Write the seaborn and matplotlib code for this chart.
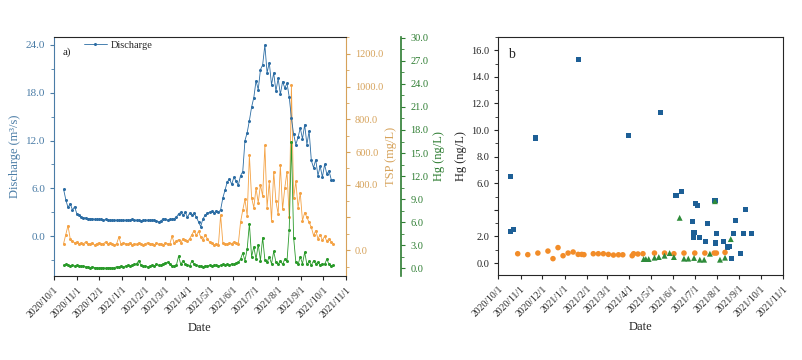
import pandas as pd
import seaborn as sns
import matplotlib.pyplot as plt
from matplotlib.ticker import MultipleLocator, FixedLocator, FixedFormatter

# panel a: daily monitoring, read every 3rd day
start_a = '2020-10-14'
step_a = '3D'
discharge = [5.9, 4.6, 3.6, 4.1, 3.3, 3.7, 2.8, 2.6, 2.4, 2.3,
             2.3, 2.2, 2.2, 2.2, 2.1, 2.1, 2.1, 2.1, 2.0, 2.1,
             2.0, 2.0, 2.0, 2.0, 2.0, 2.0, 2.0, 2.0, 2.0, 2.0,
             2.0, 2.1, 2.0, 2.0, 2.0, 1.9, 2.0, 2.0, 2.0, 2.0,
             2.0, 2.0, 1.9, 1.8, 1.9, 2.2, 2.1, 2.0, 2.1, 2.1,
             2.2, 2.4, 2.8, 3.0, 2.6, 3.0, 2.4, 2.9, 2.6, 2.9,
             2.4, 1.8, 1.2, 2.2, 2.6, 2.9, 3.0, 3.1, 2.9, 3.2,
             3.0, 3.3, 4.8, 5.8, 6.8, 7.2, 6.5, 7.4, 6.9, 6.4,
             7.6, 8.1, 12.0, 13.0, 14.5, 16.2, 17.4, 19.5, 18.4, 20.9,
             21.5, 24.0, 20.5, 21.8, 19.0, 20.5, 18.2, 19.8, 17.8, 19.4,
             18.6, 19.2, 17.5, 14.8, 12.8, 11.5, 12.4, 13.6, 12.2, 14.0,
             11.5, 13.2, 9.5, 8.6, 9.6, 7.6, 8.8, 7.4, 9.0, 7.8,
             8.2, 7.1, 7.0]
tsp = [40, 95, 150, 70, 55, 45, 50, 35, 45, 40,
       50, 35, 40, 45, 30, 40, 45, 35, 40, 50,
       35, 45, 40, 30, 40, 80, 35, 45, 40, 35,
       45, 30, 40, 35, 45, 40, 30, 40, 45, 35,
       40, 30, 45, 35, 40, 30, 45, 40, 35, 85,
       45, 55, 65, 45, 70, 60, 55, 70, 95, 120,
       90, 115, 80, 60, 95, 70, 50, 45, 30, 40,
       30, 215, 45, 40, 35, 45, 40, 50, 45, 40,
       170, 245, 310, 210, 580, 320, 260, 380, 290, 400,
       330, 640, 260, 420, 180, 480, 300, 220, 520, 250,
       380, 480, 200, 1010, 320, 420, 260, 350, 180, 230,
       200, 170, 140, 90, 120, 70, 95, 60, 85, 55,
       70, 50, 40]
hg_a = [0.4, 0.5, 0.4, 0.3, 0.4, 0.3, 0.4, 0.3, 0.3, 0.3,
        0.2, 0.2, 0.1, 0.2, 0.1, 0.1, 0.0, 0.1, 0.1, 0.0,
        0.1, 0.1, 0.0, 0.1, 0.2, 0.2, 0.3, 0.2, 0.3, 0.4,
        0.3, 0.4, 0.5, 0.6, 1.0, 0.4, 0.3, 0.3, 0.2, 0.3,
        0.4, 0.3, 0.5, 0.4, 0.4, 0.6, 0.7, 0.8, 0.6, 0.3,
        0.3, 0.4, 1.6, 0.5, 1.0, 0.6, 0.4, 0.3, 1.0, 0.5,
        0.4, 0.3, 0.3, 0.2, 0.3, 0.3, 0.4, 0.3, 0.4, 0.4,
        0.3, 0.4, 0.5, 0.4, 0.5, 0.4, 0.6, 0.5, 0.7, 0.8,
        1.2, 2.0, 1.0, 2.5, 5.8, 1.5, 2.8, 1.2, 3.1, 1.0,
        4.0, 1.1, 0.8, 1.5, 0.6, 2.2, 0.8, 0.5, 1.0, 0.5,
        1.2, 0.9, 5.0, 16.5, 4.0, 0.8, 0.5, 1.5, 0.6, 2.1,
        0.5, 0.9, 0.4, 1.0, 0.6, 0.8, 0.4, 0.6, 0.5, 1.2,
        0.5, 0.3, 0.4]

# panel b: Hg samples
sq_dates = ['2020-10-18', '2020-10-18', '2020-10-22', '2020-11-22', '2021-01-21',
            '2021-03-31', '2021-05-14', '2021-06-05', '2021-06-12', '2021-06-28',
            '2021-06-29', '2021-06-30', '2021-07-02', '2021-07-05', '2021-07-08',
            '2021-07-16', '2021-07-19', '2021-07-29', '2021-07-30', '2021-07-31',
            '2021-08-10', '2021-08-16', '2021-08-18', '2021-08-21', '2021-08-24',
            '2021-08-27', '2021-09-02', '2021-09-07', '2021-09-09', '2021-09-18']
sq_hg = [6.5, 2.4, 2.5, 9.4, 15.3,
         9.6, 11.3, 5.1, 5.4, 3.1,
         1.9, 2.3, 4.5, 4.3, 1.9,
         1.65, 3.0, 4.7, 1.5, 2.2,
         1.6, 1.2, 1.25, 0.33, 2.2,
         3.2, 0.73, 2.2, 4.0, 2.2]
ci_dates = ['2020-10-28', '2020-11-11', '2020-11-25', '2020-12-09', '2020-12-16',
            '2020-12-23', '2020-12-30', '2021-01-06', '2021-01-13', '2021-01-20',
            '2021-01-25', '2021-01-28', '2021-02-10', '2021-02-17', '2021-02-24',
            '2021-03-03', '2021-03-10', '2021-03-17', '2021-03-23', '2021-04-05',
            '2021-04-07', '2021-04-13', '2021-04-20', '2021-05-06', '2021-05-20',
            '2021-06-02', '2021-06-16', '2021-07-01', '2021-07-15', '2021-07-28',
            '2021-07-31', '2021-08-12']
ci_hg = [0.7, 0.63, 0.75, 0.9, 0.33,
         1.16, 0.55, 0.75, 0.83, 0.65,
         0.65, 0.63, 0.7, 0.7, 0.7,
         0.65, 0.6, 0.62, 0.62, 0.55,
         0.7, 0.68, 0.7, 0.75, 0.75,
         0.7, 0.75, 0.75, 0.75, 0.75,
         0.75, 0.8]
tri_dates = ['2021-04-21', '2021-04-24', '2021-04-28', '2021-05-06', '2021-05-12',
             '2021-05-20', '2021-05-27', '2021-06-02', '2021-06-10', '2021-06-16',
             '2021-06-22', '2021-06-30', '2021-07-08', '2021-07-14', '2021-07-22',
             '2021-07-29', '2021-08-05', '2021-08-12', '2021-08-20']
tri_hg = [0.3, 0.3, 0.3, 0.4, 0.45,
          0.55, 0.75, 0.45, 3.4, 0.33,
          0.33, 0.38, 0.25, 0.25, 0.7,
          4.65, 0.25, 0.4, 1.8]

c_blue = '#2b6ca3'
c_orange = '#f4a244'
c_green = '#2a9a2a'
c_blue_txt = '#4a7ca6'
c_orange_txt = '#d6a25a'
c_green_txt = '#2e7d32'

sns.set_style('ticks')
plt.rcParams['font.family'] = ['Liberation Serif', 'DejaVu Serif']
plt.rcParams['xtick.direction'] = 'out'
plt.rcParams['ytick.direction'] = 'out'

days = pd.date_range(start_a, periods=len(discharge), freq=step_a)
df_a = pd.DataFrame({'date': days, 'discharge': discharge, 'tsp': tsp, 'hg': hg_a})

months = pd.date_range('2020-10-01', '2021-11-01', freq='MS')
month_labels = [f'{d.year}/{d.month}/{d.day}' for d in months]
xlim = (pd.Timestamp('2020-10-01'), pd.Timestamp('2021-11-01'))

fig = plt.figure(figsize=(8.02, 3.6), dpi=100)
ax1 = fig.add_axes([0.0673, 0.2333, 0.3641, 0.6639])
ax2 = ax1.twinx()
ax3 = ax1.twinx()

line_kw = dict(marker='o', markersize=2.2, markeredgewidth=0, linewidth=0.6, estimator=None)
sns.lineplot(data=df_a, x='date', y='discharge', ax=ax1, color=c_blue, label='Discharge', **line_kw)
sns.lineplot(data=df_a, x='date', y='tsp', ax=ax2, color=c_orange, legend=False, **line_kw)
sns.lineplot(data=df_a, x='date', y='hg', ax=ax3, color=c_green, legend=False, **line_kw)

ax1.set_xlim(xlim)
ax1.set_ylim(-5, 25)
ax2.set_ylim(-158, 1303)
ax3.set_ylim(-1.0, 30.1)

ax1.set_xticks(months)
ax1.set_xticklabels(month_labels, rotation=45, ha='right', rotation_mode='anchor', fontsize=7)
ax1.set_xlabel('Date', fontsize=9, labelpad=2)

ax1.yaxis.set_major_locator(FixedLocator([0, 6, 12, 18, 24]))
ax1.yaxis.set_minor_locator(FixedLocator([-3, 3, 9, 15, 21]))
ax1.yaxis.set_major_formatter(FixedFormatter(['0.0', '6.0', '12.0', '18.0', '24.0']))
ax1.tick_params(axis='y', colors=c_blue_txt, labelsize=8, length=3)
ax1.tick_params(axis='y', which='minor', colors=c_blue_txt, length=2)
ax1.tick_params(axis='x', labelsize=7, length=3)
ax1.set_ylabel('Discharge (m³/s)', color=c_blue_txt, fontsize=9, labelpad=3)
ax1.spines['left'].set_color(c_blue_txt)
ax1.spines['right'].set_visible(False)

tsp_ticks = [0, 200, 400, 600, 800, 1000, 1200]
ax2.yaxis.set_major_locator(FixedLocator(tsp_ticks))
ax2.yaxis.set_major_formatter(FixedFormatter(['0.0', '', '400.0', '600.0', '800.0', '1000.0', '1200.0']))
ax2.yaxis.set_minor_locator(MultipleLocator(100))
ax2.tick_params(axis='y', colors=c_orange_txt, labelsize=7.5, length=3)
ax2.tick_params(axis='y', which='minor', colors=c_orange_txt, length=2)
ax2.set_ylabel('TSP (mg/L)', color=c_orange_txt, fontsize=9, labelpad=1)
ax2.spines['right'].set_color(c_orange_txt)
for s in ['left', 'top', 'bottom']:
    ax2.spines[s].set_visible(False)

ax3.spines['right'].set_position(('axes', 1.19))
ax3.spines['right'].set_color(c_green_txt)
ax3.spines['right'].set_linewidth(1.2)
for s in ['left', 'top', 'bottom']:
    ax3.spines[s].set_visible(False)
ax3.yaxis.set_major_locator(MultipleLocator(3))
ax3.yaxis.set_minor_locator(MultipleLocator(1.5))
ax3.yaxis.set_major_formatter(lambda v, p: f'{v:.1f}')
ax3.tick_params(axis='y', colors=c_green_txt, labelsize=7.5, length=3)
ax3.tick_params(axis='y', which='minor', colors=c_green_txt, length=2)
ax3.set_ylabel('Hg (ng/L)', color=c_green_txt, fontsize=9, labelpad=3)

ax1.text(0.03, 0.955, 'a)', transform=ax1.transAxes, fontsize=8, va='top')
ax1.legend(loc='upper left', bbox_to_anchor=(0.07, 1.025), frameon=False, fontsize=7.5,
           handlelength=2.2, handletextpad=0.4)
ax1.set_zorder(ax3.get_zorder() + 1)
ax1.patch.set_visible(False)

# panel b
ax4 = fig.add_axes([0.6213, 0.2361, 0.3554, 0.6611])
sns.scatterplot(x=pd.to_datetime(sq_dates), y=sq_hg, ax=ax4, marker='s', s=14,
                color='#1d5f96', edgecolor='none')
sns.scatterplot(x=pd.to_datetime(ci_dates), y=ci_hg, ax=ax4, marker='o', s=16,
                color='#f28c28', edgecolor='none')
sns.scatterplot(x=pd.to_datetime(tri_dates), y=tri_hg, ax=ax4, marker='^', s=18,
                color='#2e8b3a', edgecolor='none')
ax4.set_xlim(xlim)
ax4.set_ylim(-0.9, 17)
ax4.set_xticks(months)
ax4.set_xticklabels(month_labels, rotation=45, ha='right', rotation_mode='anchor', fontsize=7)
ax4.yaxis.set_major_locator(FixedLocator([0, 2, 4, 6, 8, 10, 12, 14, 16]))
ax4.yaxis.set_major_formatter(FixedFormatter(['0.0', '2.0', '', '6.0', '8.0', '10.0', '12.0', '14.0', '16.0']))
ax4.yaxis.set_minor_locator(MultipleLocator(1))
ax4.tick_params(axis='both', labelsize=7.5, length=3)
ax4.tick_params(axis='x', labelsize=7)
ax4.tick_params(axis='y', which='minor', length=2)
ax4.set_xlabel('Date', fontsize=9, labelpad=2)
ax4.set_ylabel('Hg (ng/L)', fontsize=9, labelpad=3)
ax4.text(0.035, 0.955, 'b', transform=ax4.transAxes, fontsize=10, va='top')

plt.savefig('out.png', dpi=100)
plt.close()
